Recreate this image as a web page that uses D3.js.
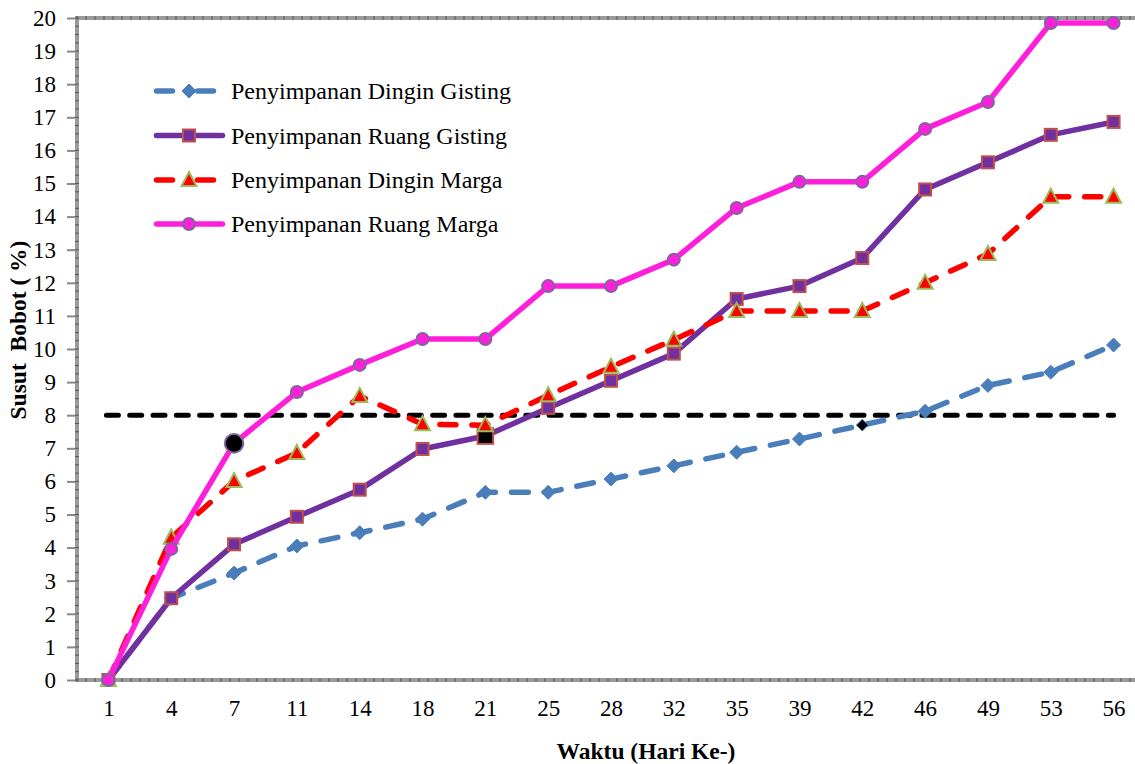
<!DOCTYPE html>
<html><head><meta charset="utf-8">
<script src="https://cdn.jsdelivr.net/npm/d3@7"></script>
<style>body{margin:0;background:#fff}svg{display:block}</style>
</head><body>
<svg id="c" width="1135" height="764"></svg>
<script>
const days = ["1","4","7","11","14","18","21","25","28","32","35","39","42","46","49","53","56"];
const yTicks = [0,1,2,3,4,5,6,7,8,9,10,11,12,13,14,15,16,17,18,19,20];
const dinginGisting = [0,2.47,3.23,4.05,4.45,4.86,5.67,5.67,6.07,6.47,6.88,7.28,7.7,8.12,8.9,9.3,10.12];
const ruangGisting  = [0,2.47,4.1,4.93,5.75,6.98,7.37,8.22,9.04,9.86,11.51,11.9,12.75,14.82,15.64,16.47,16.86];
const dinginMarga   = [0,4.3,6.01,6.86,8.58,7.73,7.7,8.6,9.46,10.28,11.15,11.15,11.15,12.0,12.87,14.6,14.6];
const ruangMarga    = [0,3.96,7.15,8.7,9.52,10.3,10.3,11.9,11.9,12.7,14.26,15.05,15.05,16.65,17.46,19.85,19.85];
const seriesNames = ["Penyimpanan Dingin Gisting","Penyimpanan Ruang Gisting","Penyimpanan Dingin Marga","Penyimpanan Ruang Marga"];
const threshold = 8;
const highlight = [{s:3,i:2},{s:1,i:6},{s:0,i:12}];

const svg = d3.select("#c");
const L=77, R=1145, T=18, B=680;
const x = d3.scalePoint().domain(days).range([L,R]).padding(0.5);
const y = d3.scaleLinear().domain([0,20]).range([B,T]);
const font = "Liberation Serif";

const series = [
  {name:seriesNames[0], data:dinginGisting, color:"#4a7ebb", dash:"17,16", w:5.5, marker:"diamond", fill:"#4a7ebb", stroke:"#4a7ebb"},
  {name:seriesNames[1], data:ruangGisting, color:"#7030a0", dash:null, w:5.5, marker:"square", fill:"#7030a0", stroke:"#c0504d"},
  {name:seriesNames[2], data:dinginMarga, color:"#ff0000", dash:"16,16", w:5.5, marker:"triangle", fill:"#ff0000", stroke:"#9bbb59"},
  {name:seriesNames[3], data:ruangMarga, color:"#ff1fdb", dash:null, w:5.5, marker:"circle", fill:"#ff1fdb", stroke:"#8064a2"}
];

svg.attr("font-family",font);

const g = svg.append("g");
g.append("rect").attr("x",L).attr("y",T).attr("width",R-L).attr("height",B-T)
  .attr("fill","none").attr("stroke","#9a9a9a").attr("stroke-width",4);
const minorY = d3.range(0,20.01,0.25);
g.selectAll(".my").data(minorY).join("line")
  .attr("x1",L-2).attr("x2",L+2).attr("y1",d=>y(d)).attr("y2",d=>y(d))
  .attr("stroke","#555").attr("stroke-width",1);
const minorX = d3.range(L,R,9);
g.selectAll(".mxb").data(minorX).join("line")
  .attr("x1",d=>d).attr("x2",d=>d).attr("y1",B-2).attr("y2",B+2)
  .attr("stroke","#555").attr("stroke-width",1);
g.selectAll(".mxt").data(minorX).join("line")
  .attr("x1",d=>d).attr("x2",d=>d).attr("y1",T-2).attr("y2",T+2)
  .attr("stroke","#555").attr("stroke-width",1);

const yAxis = d3.axisLeft(y).tickValues(yTicks).tickSize(8).tickPadding(11).tickFormat(d3.format("d"));
const ya = svg.append("g").attr("transform",`translate(${L-2},0)`).call(yAxis);
ya.attr("font-family",font).attr("font-size",23);
ya.select(".domain").remove();
ya.selectAll(".tick line").attr("stroke","#888").attr("stroke-width",2);
ya.selectAll("text").attr("fill","#000");

const xAxis = d3.axisBottom(x).tickSize(0).tickPadding(20);
const xa = svg.append("g").attr("transform",`translate(0,${B})`).call(xAxis);
xa.attr("font-family",font).attr("font-size",23);
xa.select(".domain").remove();
xa.selectAll("text").attr("fill","#000");

svg.append("text").attr("transform",`translate(26,330) rotate(-90)`).attr("text-anchor","middle")
  .attr("font-family",font).attr("font-weight","bold").attr("font-size",23.5).attr("xml:space","preserve")
  .text("Susut  Bobot ( %)");
svg.append("text").attr("x",646).attr("y",759).attr("text-anchor","middle")
  .attr("font-family",font).attr("font-weight","bold").attr("font-size",23.5)
  .text("Waktu (Hari Ke-)");

svg.append("line").attr("x1",x(days[0])-2).attr("x2",x(days[days.length-1]))
  .attr("y1",y(threshold)).attr("y2",y(threshold))
  .attr("stroke","#000").attr("stroke-width",5).attr("stroke-dasharray","12,11.3").attr("stroke-linecap","round");

const line = d3.line().x((d,i)=>x(days[i])).y(d=>y(d));

function drawMarker(sel, type, cx, cy, fill, stroke, scale){
  const s = scale||1;
  if(type==="diamond"){
    sel.append("path").attr("d",`M${cx},${cy-7*s}L${cx+7*s},${cy}L${cx},${cy+7*s}L${cx-7*s},${cy}Z`)
      .attr("fill",fill).attr("stroke",stroke).attr("stroke-width",1);
  } else if(type==="square"){
    sel.append("rect").attr("x",cx-6*s).attr("y",cy-6*s).attr("width",12*s).attr("height",12*s)
      .attr("fill",fill).attr("stroke",stroke).attr("stroke-width",2);
  } else if(type==="triangle"){
    sel.append("path").attr("d",`M${cx},${cy-8*s}L${cx+7.5*s},${cy+6*s}L${cx-7.5*s},${cy+6*s}Z`)
      .attr("fill",fill).attr("stroke",stroke).attr("stroke-width",2);
  } else {
    sel.append("circle").attr("cx",cx).attr("cy",cy).attr("r",6*s)
      .attr("fill",fill).attr("stroke",stroke).attr("stroke-width",2);
  }
}

series.forEach((s,si)=>{
  const gs = svg.append("g");
  gs.append("path").datum(s.data).attr("d",line).attr("fill","none")
    .attr("stroke",s.color).attr("stroke-width",s.w).attr("stroke-linejoin","round")
    .attr("stroke-linecap","round").attr("stroke-dasharray",s.dash);
  s.data.forEach((v,i)=>{
    const h = highlight.find(hh=>hh.s===si && hh.i===i);
    if(h){
      if(s.marker==="circle") drawMarker(gs,"circle",x(days[i]),y(v),"#000",s.stroke,1.55);
      else if(s.marker==="square") drawMarker(gs,"square",x(days[i]),y(v),"#000",s.stroke,1.3);
      else drawMarker(gs,s.marker,x(days[i]),y(v),"#000",s.color,0.85);
    } else drawMarker(gs,s.marker,x(days[i]),y(v),s.fill,s.stroke,1);
  });
});

const legY = [91,135.5,180,224];
series.forEach((s,i)=>{
  const lg = svg.append("g");
  const yy = legY[i];
  if(s.dash){
    lg.append("line").attr("x1",156.5).attr("x2",213.5).attr("y1",yy).attr("y2",yy)
      .attr("stroke",s.color).attr("stroke-width",5.5).attr("stroke-linecap","round")
      .attr("stroke-dasharray","16,25");
  } else {
    lg.append("line").attr("x1",156.5).attr("x2",222.5).attr("y1",yy).attr("y2",yy)
      .attr("stroke",s.color).attr("stroke-width",5.5).attr("stroke-linecap","round");
  }
  drawMarker(lg,s.marker,189,yy,s.fill,s.stroke,1);
  lg.append("text").attr("x",231).attr("y",yy+8).attr("font-family",font).attr("font-size",24)
    .attr("fill","#000").text(s.name);
});
</script>
</body></html>
